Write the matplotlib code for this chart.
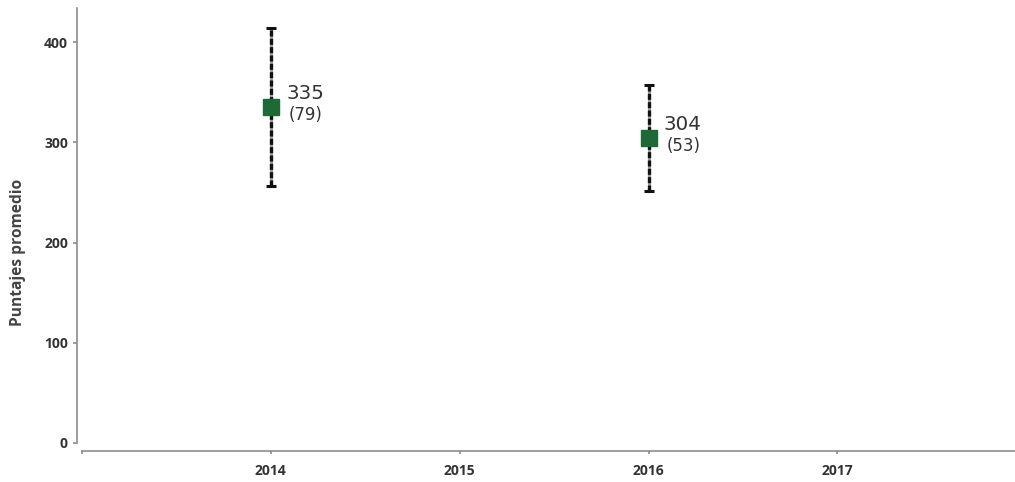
import matplotlib
matplotlib.use('Agg')
import matplotlib.pyplot as plt

# values
years = [2014, 2016]
means = [335, 304]
errors = [79, 53]
tick_years = [2014, 2015, 2016, 2017]
y_ticks = [0, 100, 200, 300, 400]

plt.rcParams['font.family'] = ['Open Sans', 'DejaVu Sans']

fig = plt.figure(figsize=(10.15, 4.82), dpi=100)
ax = fig.add_axes([82 / 1015, 39 / 482, 933 / 1015, 435 / 482])

lows = [m - e for m, e in zip(means, errors)]
highs = [m + e for m, e in zip(means, errors)]

# error bars: grey base with black dashes on top, small caps
ax.vlines(years, lows, highs, colors='#9a9a9a', linewidth=2.2, zorder=2)
ax.vlines(years, lows, highs, colors='#111111', linewidth=2.4,
          linestyles=(0, (1.8, 0.7)), zorder=3)
ax.errorbar(years, means, yerr=errors, fmt='none', ecolor='#111111',
            elinewidth=0, capsize=3.5, capthick=2.2, zorder=3)
ax.plot(years, means, 's', color='#1d6a36', markersize=11, zorder=4)

# mean and (error) labels next to each marker
for x, m, e in zip(years, means, errors):
    ax.annotate(str(m), (x, m), xytext=(11, 5.9), textcoords='offset points',
                fontsize=14.3, color='#333333', va='baseline', ha='left',
                family='DejaVu Sans')
    ax.annotate(f'({e})', (x, m), xytext=(13, -8.9), textcoords='offset points',
                fontsize=12, color='#333333', va='baseline', ha='left',
                family='DejaVu Sans')

ax.set_xlim(2013, 2017.94)
ax.set_ylim(0, 434)
ax.set_xticks([2013] + tick_years)
ax.set_xticklabels([''] + [str(y) for y in tick_years])
ax.set_yticks(y_ticks)

for s in ['top', 'right']:
    ax.spines[s].set_visible(False)
ax.spines['left'].set_position(('outward', 3.6))
ax.spines['bottom'].set_position(('outward', 5.8))
for s in ['left', 'bottom']:
    ax.spines[s].set_color('#8c8c8c')
    ax.spines[s].set_linewidth(1.2)

ax.tick_params(axis='both', colors='#8c8c8c', length=3, width=1.2)
ax.tick_params(axis='x', length=2.5, pad=7)
for lbl in ax.get_xticklabels() + ax.get_yticklabels():
    lbl.set_color('#333333')
    lbl.set_fontweight('bold')
    lbl.set_fontsize(10)

fig.text(18 / 1015, 1 - 252 / 482, 'Puntajes promedio', rotation=90,
         ha='center', va='center', fontsize=11.2, fontweight='bold',
         color='#444444')

plt.savefig('out.png', dpi=100)
